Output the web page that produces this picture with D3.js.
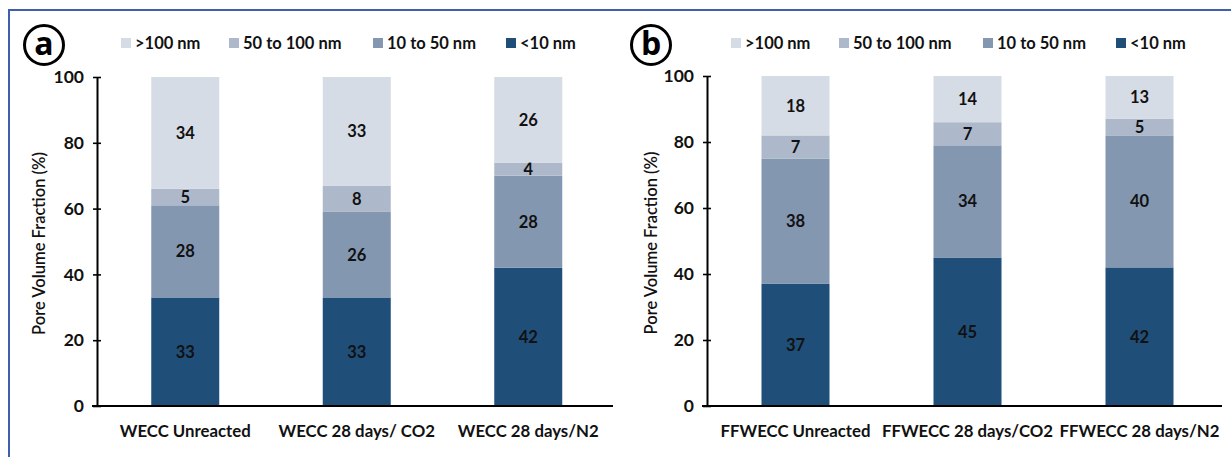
<!DOCTYPE html>
<html>
<head>
<meta charset="utf-8">
<script src="https://cdn.jsdelivr.net/npm/d3@7/dist/d3.min.js"></script>
<style>
  html, body { margin: 0; padding: 0; background: #fff; }
  svg { display: block; font-family: Lato, "Open Sans", sans-serif; }
</style>
</head>
<body>
<svg id="chart" width="1231" height="457"></svg>
<script>
// Pore size classes, bottom of the stack first
const sizeClasses = ["<10 nm", "10 to 50 nm", "50 to 100 nm", ">100 nm"];
const legendOrder = [">100 nm", "50 to 100 nm", "10 to 50 nm", "<10 nm"];
const classColors = ["#1f4e79", "#8497b0", "#adb9ca", "#d6dce5"];

// Panel (a): WECC samples
const categoriesA = ["WECC Unreacted", "WECC 28 days/ CO2", "WECC 28 days/N2"];
const lt10A = [33, 33, 42];
const from10to50A = [28, 26, 28];
const from50to100A = [5, 8, 4];
const gt100A = [34, 33, 26];

// Panel (b): FFWECC samples
const categoriesB = ["FFWECC Unreacted", "FFWECC 28 days/CO2", "FFWECC 28 days/N2"];
const lt10B = [37, 45, 42];
const from10to50B = [38, 34, 40];
const from50to100B = [7, 7, 5];
const gt100B = [18, 14, 13];

const yTicks = [0, 20, 40, 60, 80, 100];
const yTitle = "Pore Volume Fraction (%)";

const FS = 16.5;
const svg = d3.select("#chart");

// Outer frame (top and left edges visible)
svg.append("path")
  .attr("d", "M9,460 L9,10 L1240,10")
  .attr("fill", "none")
  .attr("stroke", "#3f5fae")
  .attr("stroke-width", 2);

function buildRows(cats, s0, s1, s2, s3) {
  return cats.map((c, i) => ({
    cat: c,
    [sizeClasses[0]]: s0[i],
    [sizeClasses[1]]: s1[i],
    [sizeClasses[2]]: s2[i],
    [sizeClasses[3]]: s3[i]
  }));
}

function drawPanel(cfg) {
  const g = svg.append("g");
  const rows = buildRows(cfg.categories, cfg.s0, cfg.s1, cfg.s2, cfg.s3);

  const x = d3.scaleBand()
    .domain(cfg.categories)
    .range([cfg.axisX + 2.5, cfg.axisX + 2.5 + 3 * cfg.step])
    .paddingInner(1 - 68 / cfg.step)
    .paddingOuter((1 - 68 / cfg.step) / 2);

  const y = d3.scaleLinear().domain([0, 100]).range([406, cfg.top]);

  const color = d3.scaleOrdinal().domain(sizeClasses).range(classColors);
  const stacked = d3.stack().keys(sizeClasses)(rows);

  // Stacked bars
  const layers = g.selectAll("g.layer").data(stacked).join("g")
    .attr("class", "layer")
    .attr("fill", d => color(d.key));

  layers.selectAll("rect").data(d => d).join("rect")
    .attr("x", d => x(d.data.cat))
    .attr("width", x.bandwidth())
    .attr("y", d => y(d[1]))
    .attr("height", d => y(d[0]) - y(d[1]));

  // Segment value labels
  layers.selectAll("text").data(d => d.map(v => ({ v, key: d.key }))).join("text")
    .attr("x", d => x(d.v.data.cat) + x.bandwidth() / 2)
    .attr("y", d => (y(d.v[0]) + y(d.v[1])) / 2)
    .attr("dy", "0.36em")
    .attr("text-anchor", "middle")
    .attr("fill", "#111")
    .attr("font-size", FS)
    .attr("font-weight", 700)
    .text(d => d.v.data[d.key]);

  // Y axis
  const yAxis = d3.axisLeft(y).tickValues(yTicks).tickSize(0).tickPadding(13);
  const ya = g.append("g")
    .attr("transform", `translate(${cfg.axisX},0)`)
    .call(yAxis);
  ya.select(".domain").attr("stroke", "#000").attr("stroke-width", 2);
  ya.selectAll(".tick text")
    .attr("font-size", 17.5).attr("font-weight", 700).attr("fill", "#111")
    .attr("font-family", "Lato, sans-serif");
  ya.selectAll(".tick").append("line")
    .attr("x1", -4).attr("x2", 4)
    .attr("stroke", "#000").attr("stroke-width", 1.6);

  // X axis baseline and category labels
  const xa = g.append("g")
    .attr("transform", `translate(0,${y(0)})`)
    .call(d3.axisBottom(x).tickSize(0).tickPadding(19));
  xa.select(".domain").remove();
  xa.append("line")
    .attr("x1", cfg.axisX - 5).attr("x2", cfg.axisRight)
    .attr("stroke", "#000").attr("stroke-width", 2);
  xa.selectAll(".tick text")
    .attr("font-size", 16.8).attr("font-weight", 700).attr("fill", "#111")
    .attr("font-family", "Lato, sans-serif");

  // Y title
  g.append("text")
    .attr("transform", `translate(${cfg.titleX},${(y(0) + y(100)) / 2 + 2}) rotate(-90)`)
    .attr("text-anchor", "middle")
    .attr("font-size", 16.5)
    .attr("font-weight", 600)
    .attr("fill", "#111")
    .text(yTitle);

  // Legend
  const legendOffsets = [24, 132, 276, 409];
  const lg = g.selectAll("g.legend").data(legendOrder).join("g")
    .attr("class", "legend")
    .attr("transform", (d, i) => `translate(${cfg.axisX + legendOffsets[i]},43)`);
  lg.append("rect")
    .attr("x", 0).attr("y", -5).attr("width", 10).attr("height", 10)
    .attr("fill", d => color(d));
  lg.append("text")
    .attr("x", 14).attr("dy", "0.36em")
    .attr("font-size", FS).attr("font-weight", 700).attr("fill", "#111")
    .text(d => d);

  // Panel letter in a circle
  g.append("circle")
    .attr("cx", cfg.letterX).attr("cy", 45).attr("r", 19.5)
    .attr("fill", "none").attr("stroke", "#000").attr("stroke-width", 3);
  g.append("text")
    .attr("x", cfg.letterX).attr("y", 44).attr("dy", "0.35em")
    .attr("text-anchor", "middle")
    .attr("font-size", 32).attr("font-weight", 700)
    .attr("font-family", "'Open Sans', sans-serif")
    .text(cfg.letter);
}

drawPanel({
  categories: categoriesA, s0: lt10A, s1: from10to50A, s2: from50to100A, s3: gt100A,
  axisX: 97, axisRight: 613, step: 171.5, top: 77, titleX: 45, letterX: 44, letter: "a"
});

drawPanel({
  categories: categoriesB, s0: lt10B, s1: from10to50B, s2: from50to100B, s3: gt100B,
  axisX: 707, axisRight: 1222, step: 172, top: 76, titleX: 657, letterX: 651, letter: "b"
});
</script>
</body>
</html>
